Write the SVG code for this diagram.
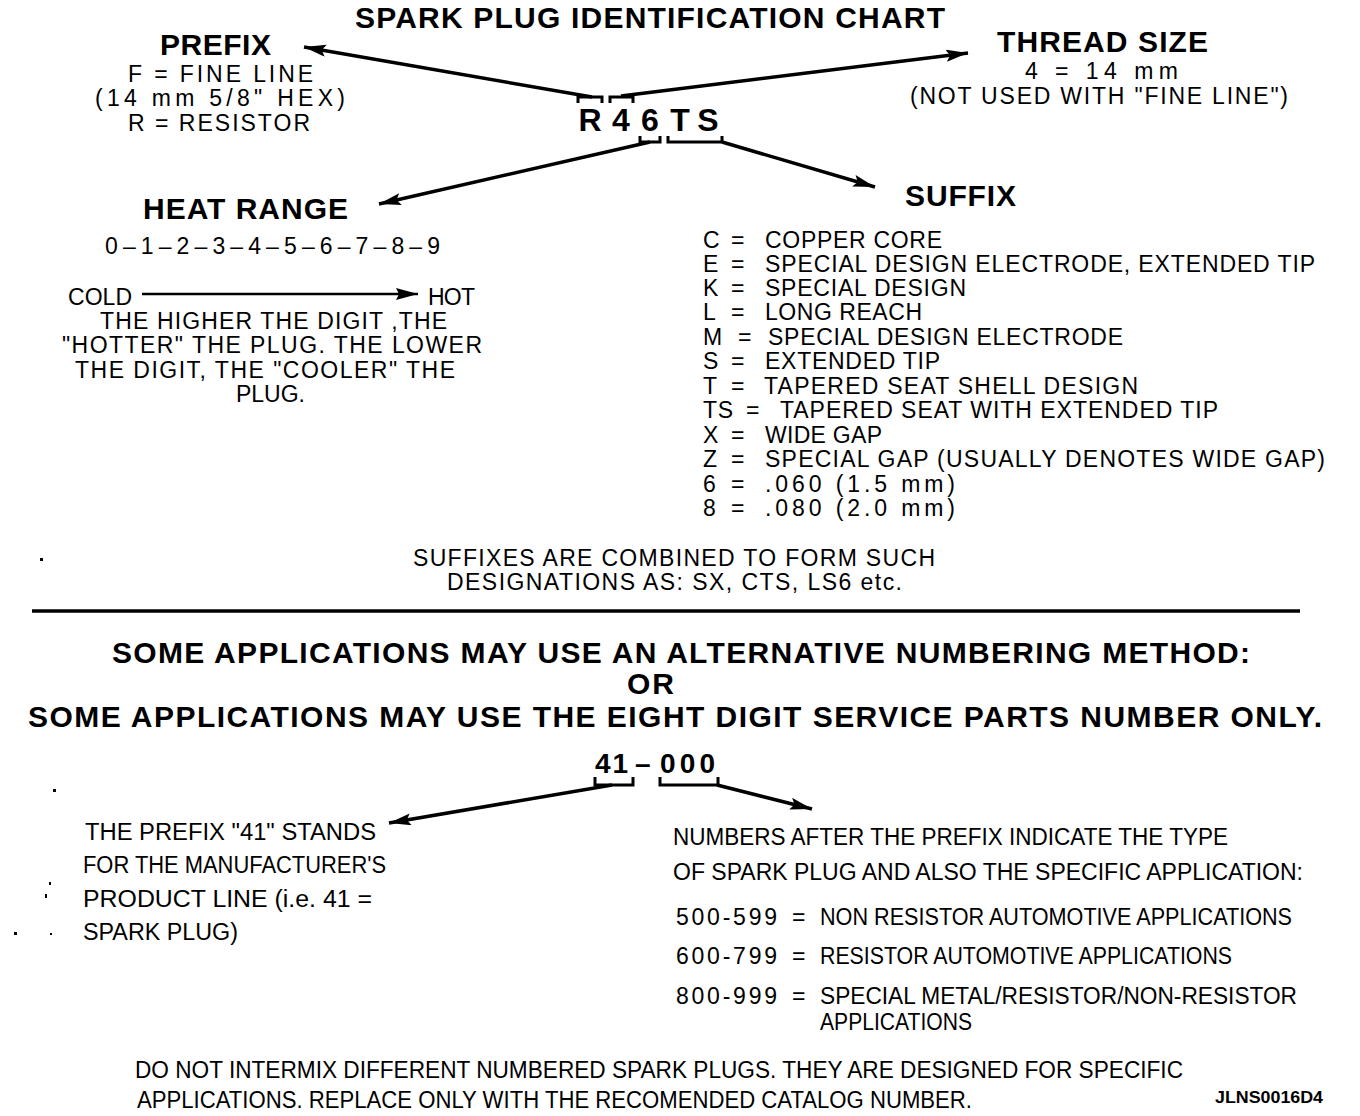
<svg xmlns="http://www.w3.org/2000/svg" width="1360" height="1116" viewBox="0 0 1360 1116">
<style>
text{font-family:"Liberation Sans",Arial,sans-serif;fill:#000}
.h{font-weight:bold;font-size:30px}
.t{font-size:23px}
.c{font-size:23px}
.code{font-weight:bold;font-size:32px}
.num{font-weight:bold;font-size:28px}
.ar{stroke:#000;stroke-width:3.5;fill:none;marker-end:url(#ah)}
.br{stroke:#000;stroke-width:3;fill:none}
</style>
<defs>
<marker id="ah" markerUnits="userSpaceOnUse" markerWidth="24" markerHeight="14" refX="22" refY="6" orient="auto">
<path d="M0,0 L22,6 L0,12 L4,6 Z" fill="#000"/>
</marker>
<marker id="ah2" markerUnits="userSpaceOnUse" markerWidth="24" markerHeight="14" refX="22" refY="6" orient="auto">
<path d="M0,0 L22,6 L0,12 L3,6 Z" fill="#000"/>
</marker>
</defs>
<rect width="1360" height="1116" fill="#fff"/>

<g id="title"><text class="h" x="355" y="28" textLength="590">SPARK PLUG IDENTIFICATION CHART</text></g>

<g id="code">
<text class="code" x="590" y="131" text-anchor="middle">R</text>
<text class="code" x="621" y="131" text-anchor="middle">4</text>
<text class="code" x="650" y="131" text-anchor="middle">6</text>
<text class="code" x="680" y="131" text-anchor="middle">T</text>
<text class="code" x="708" y="131" text-anchor="middle">S</text>
</g>

<g id="prefix">
<text class="h" x="160" y="55" textLength="111">PREFIX</text>
<text class="t" x="128" y="82" textLength="185">F = FINE LINE</text>
<text class="t" x="95" y="106" textLength="250">(14 mm 5/8" HEX)</text>
<text class="t" x="128" y="131" textLength="182">R = RESISTOR</text>
</g>

<g id="thread">
<text class="h" x="997" y="52" textLength="211">THREAD SIZE</text>
<text class="t" x="1025" y="79" textLength="153">4 = 14 mm</text>
<text class="t" x="910" y="104" textLength="378">(NOT USED WITH "FINE LINE")</text>
</g>

<g id="heat">
<text class="h" x="143" y="219" textLength="205">HEAT RANGE</text>
<text class="t" x="105" y="254" textLength="335">0–1–2–3–4–5–6–7–8–9</text>
<text class="t" x="68" y="305" textLength="64">COLD</text>
<text class="t" x="428" y="305" textLength="47">HOT</text>
<text class="t" x="100" y="329" textLength="347">THE HIGHER THE DIGIT ,THE</text>
<text class="t" x="62" y="353" textLength="420">"HOTTER" THE PLUG. THE LOWER</text>
<text class="t" x="75" y="378" textLength="380">THE DIGIT, THE "COOLER" THE</text>
<text class="t" x="236" y="402" textLength="69">PLUG.</text>
</g>

<g id="suffix">
<text class="h" x="905" y="206" textLength="111">SUFFIX</text>
<text class="t" x="703" y="248">C</text><text class="t" x="731" y="248">=</text><text class="t" x="765" y="248" textLength="177">COPPER CORE</text>
<text class="t" x="703" y="272">E</text><text class="t" x="731" y="272">=</text><text class="t" x="765" y="272" textLength="550">SPECIAL DESIGN ELECTRODE, EXTENDED TIP</text>
<text class="t" x="703" y="296">K</text><text class="t" x="731" y="296">=</text><text class="t" x="765" y="296" textLength="201">SPECIAL DESIGN</text>
<text class="t" x="703" y="320">L</text><text class="t" x="731" y="320">=</text><text class="t" x="765" y="320" textLength="157">LONG REACH</text>
<text class="t" x="703" y="345">M</text><text class="t" x="738" y="345">=</text><text class="t" x="768" y="345" textLength="355">SPECIAL DESIGN ELECTRODE</text>
<text class="t" x="703" y="369">S</text><text class="t" x="731" y="369">=</text><text class="t" x="765" y="369" textLength="175">EXTENDED TIP</text>
<text class="t" x="703" y="394">T</text><text class="t" x="731" y="394">=</text><text class="t" x="764" y="394" textLength="374">TAPERED SEAT SHELL DESIGN</text>
<text class="t" x="703" y="418" textLength="30">TS</text><text class="t" x="746" y="418">=</text><text class="t" x="780" y="418" textLength="438">TAPERED SEAT WITH EXTENDED TIP</text>
<text class="t" x="703" y="443">X</text><text class="t" x="731" y="443">=</text><text class="t" x="765" y="443" textLength="117">WIDE GAP</text>
<text class="t" x="703" y="467">Z</text><text class="t" x="731" y="467">=</text><text class="t" x="765" y="467" textLength="560">SPECIAL GAP (USUALLY DENOTES WIDE GAP)</text>
<text class="t" x="703" y="492">6</text><text class="t" x="731" y="492">=</text><text class="t" x="765" y="492" textLength="190">.060 (1.5 mm)</text>
<text class="t" x="703" y="516">8</text><text class="t" x="731" y="516">=</text><text class="t" x="765" y="516" textLength="190">.080 (2.0 mm)</text>
<text class="t" x="413" y="566" textLength="522">SUFFIXES ARE COMBINED TO FORM SUCH</text>
<text class="t" x="447" y="590" textLength="455">DESIGNATIONS AS: SX, CTS, LS6 etc.</text>
</g>

<g id="alt">
<text class="h" x="112" y="663" textLength="1138">SOME APPLICATIONS MAY USE AN ALTERNATIVE NUMBERING METHOD:</text>
<text class="h" x="627" y="694" textLength="47">OR</text>
<text class="h" x="28" y="727" textLength="1294">SOME APPLICATIONS MAY USE THE EIGHT DIGIT SERVICE PARTS NUMBER ONLY.</text>
</g>

<g id="partnum">
<text class="num" x="595" y="773" textLength="33">41</text>
<text class="num" x="635" y="773" textLength="16">–</text>
<text class="num" x="660" y="773" textLength="55">000</text>
</g>

<g id="prefix41">
<text class="c" x="85" y="840" textLength="291" lengthAdjust="spacingAndGlyphs">THE PREFIX "41" STANDS</text>
<text class="c" x="83" y="873" textLength="303" lengthAdjust="spacingAndGlyphs">FOR THE MANUFACTURER'S</text>
<text class="c" x="83" y="907" textLength="289" lengthAdjust="spacingAndGlyphs">PRODUCT LINE (i.e. 41 =</text>
<text class="c" x="83" y="940" textLength="155" lengthAdjust="spacingAndGlyphs">SPARK PLUG)</text>
</g>

<g id="numbers">
<text class="c" x="673" y="845" textLength="555" lengthAdjust="spacingAndGlyphs">NUMBERS AFTER THE PREFIX INDICATE THE TYPE</text>
<text class="c" x="673" y="880" textLength="630" lengthAdjust="spacingAndGlyphs">OF SPARK PLUG AND ALSO THE SPECIFIC APPLICATION:</text>
<text class="c" x="676" y="925" textLength="101">500-599</text><text class="c" x="792" y="925">=</text><text class="c" x="820" y="925" textLength="472" lengthAdjust="spacingAndGlyphs">NON RESISTOR AUTOMOTIVE APPLICATIONS</text>
<text class="c" x="676" y="964" textLength="101">600-799</text><text class="c" x="792" y="964">=</text><text class="c" x="820" y="964" textLength="412" lengthAdjust="spacingAndGlyphs">RESISTOR AUTOMOTIVE APPLICATIONS</text>
<text class="c" x="676" y="1004" textLength="101">800-999</text><text class="c" x="792" y="1004">=</text><text class="c" x="820" y="1004" textLength="477" lengthAdjust="spacingAndGlyphs">SPECIAL METAL/RESISTOR/NON-RESISTOR</text>
<text class="c" x="820" y="1030" textLength="152" lengthAdjust="spacingAndGlyphs">APPLICATIONS</text>
</g>

<g id="note">
<text class="c" x="135" y="1078" textLength="1048" lengthAdjust="spacingAndGlyphs">DO NOT INTERMIX DIFFERENT NUMBERED SPARK PLUGS. THEY ARE DESIGNED FOR SPECIFIC</text>
<text class="c" x="137" y="1108" textLength="835" lengthAdjust="spacingAndGlyphs">APPLICATIONS. REPLACE ONLY WITH THE RECOMENDED CATALOG NUMBER.</text>
<text x="1215" y="1103" font-size="16" font-weight="bold" textLength="108" lengthAdjust="spacingAndGlyphs">JLNS0016D4</text>
</g>

<g id="connectors">
<path class="br" d="M578,103 V97 H602 V103"/>
<path class="br" d="M610,103 V97 H633 V103"/>
<path class="br" d="M640,136 V142 H660 V136"/>
<path class="br" d="M668,136 V142 H722 V136"/>
<path class="br" d="M595,777 V785 H633 V777"/>
<path class="br" d="M660,777 V785 H718 V777"/>
<line class="ar" x1="592" y1="97" x2="304" y2="47"/>
<line class="ar" x1="621" y1="96" x2="968" y2="53"/>
<line class="ar" x1="650" y1="142" x2="379" y2="204"/>
<line class="ar" x1="722" y1="142" x2="875" y2="187"/>
<line class="ar" x1="612" y1="785" x2="389" y2="823"/>
<line class="ar" x1="717" y1="785" x2="812" y2="809"/>
<line x1="142" y1="294" x2="418" y2="294" stroke="#000" stroke-width="2.5" marker-end="url(#ah2)"/>
<line x1="32" y1="611" x2="1300" y2="611" stroke="#000" stroke-width="3.5"/>
</g>

<g id="specks" fill="#000">
<rect x="40" y="558" width="3" height="3"/>
<rect x="53" y="789" width="3" height="3"/>
<rect x="49" y="882" width="2" height="3"/>
<rect x="45" y="894" width="2" height="4"/>
<rect x="14" y="932" width="3" height="3"/>
<rect x="50" y="933" width="2" height="2"/>
</g>
</svg>
